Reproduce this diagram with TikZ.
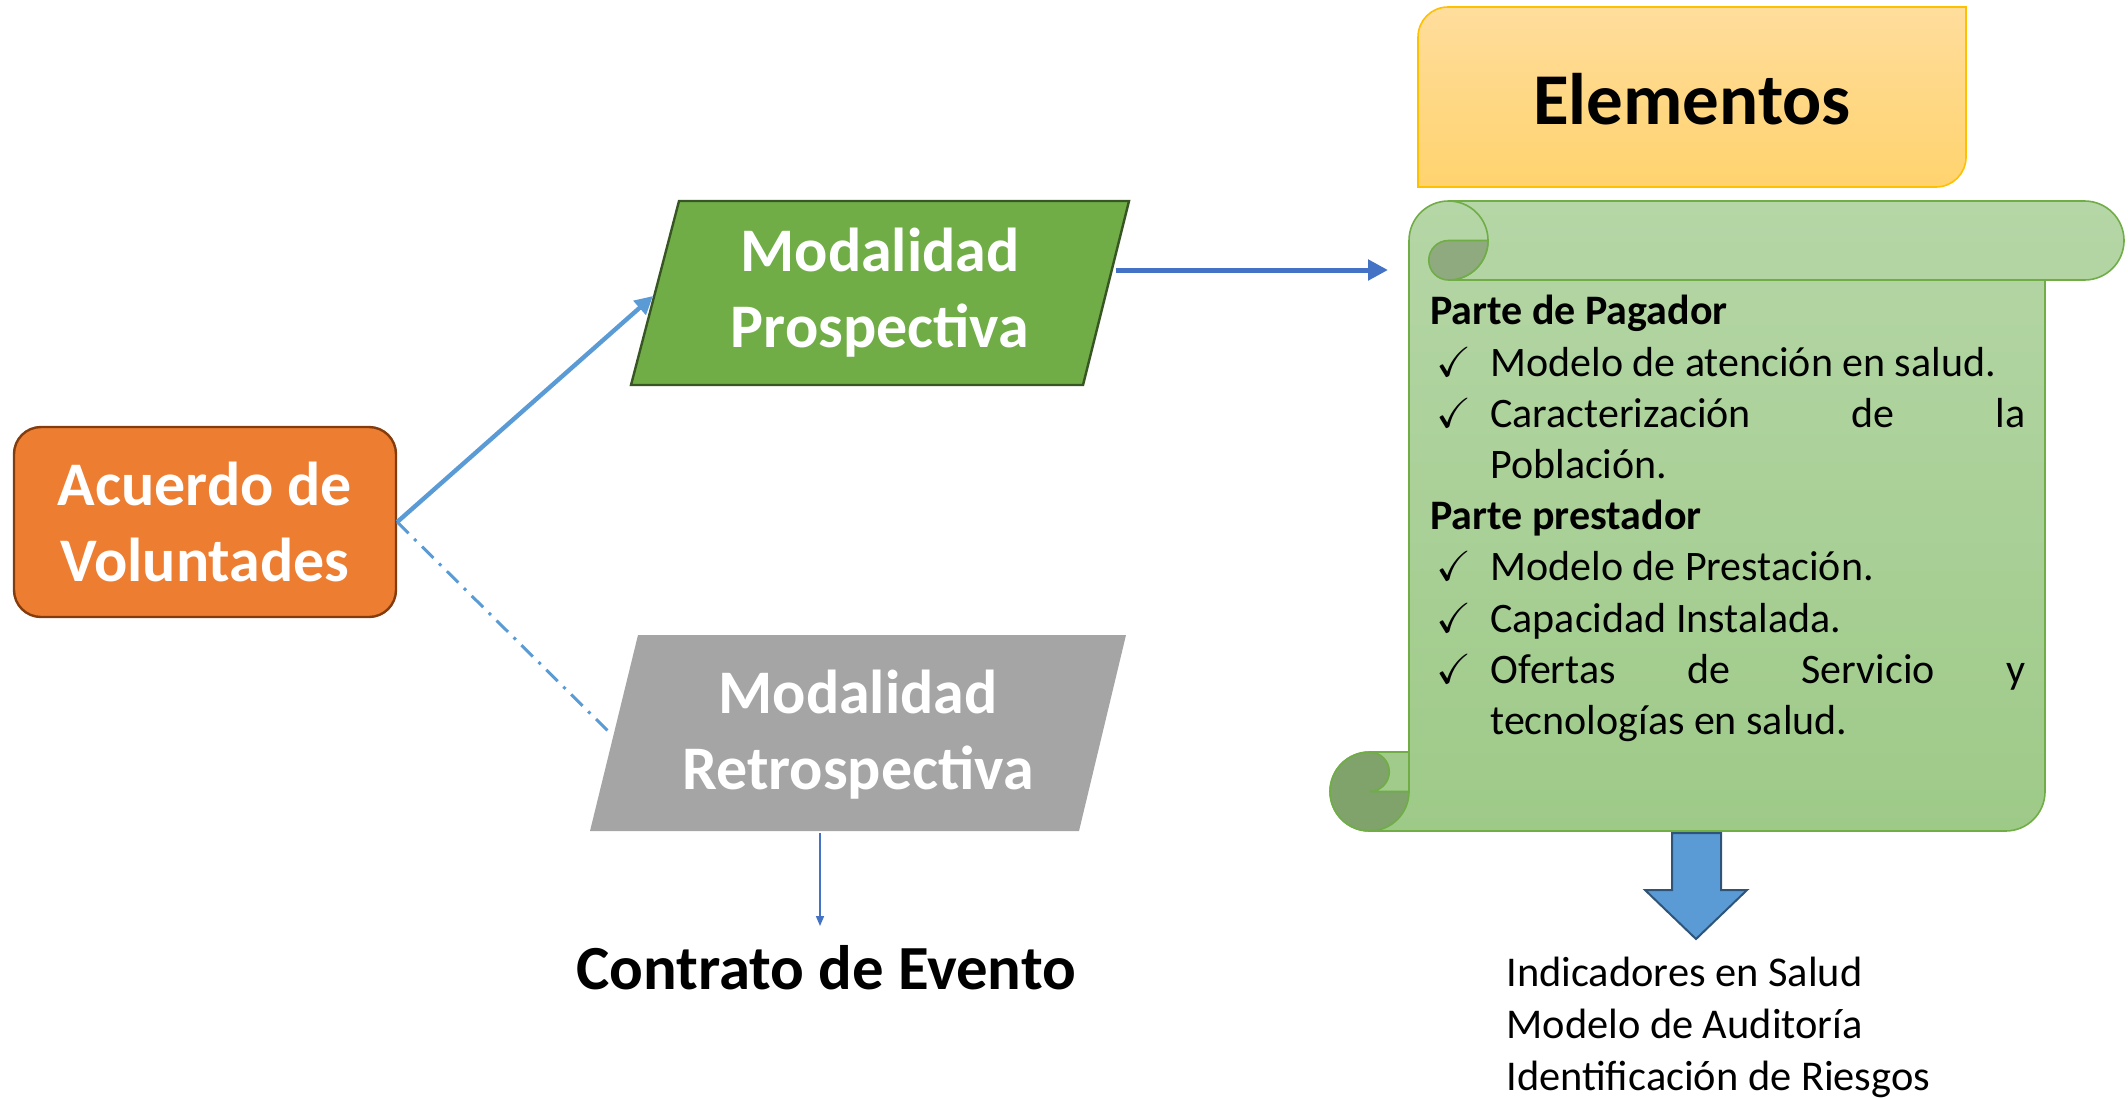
\documentclass[tikz,border=0pt]{standalone}
\usepackage{amsmath,amssymb}
\usepackage{fontspec}
\setmainfont{Carlito}
\usetikzlibrary{arrows.meta}

\definecolor{orangefill}{HTML}{ED7D31}
\definecolor{orangeline}{HTML}{843C0C}
\definecolor{greenfill}{HTML}{70AD47}
\definecolor{greenline}{HTML}{375623}
\definecolor{grayfill}{HTML}{A5A5A5}
\definecolor{lightblue}{HTML}{5B9BD5}
\definecolor{darkblue}{HTML}{4472C4}
\definecolor{navyline}{HTML}{2E5579}
\definecolor{goldtop}{HTML}{FFDD9C}
\definecolor{goldbottom}{HTML}{FFD36E}
\definecolor{goldline}{HTML}{FFC000}
\definecolor{scrolltop}{HTML}{B5D6A6}
\definecolor{scrollbottom}{HTML}{9ECA88}
\definecolor{curltop}{HTML}{8FAA7F}
\definecolor{curlbottom}{HTML}{7FA36B}

\newcommand{\chk}[1]{\makebox[30pt][l]{\hspace{3pt}$\boldsymbol{\checkmark}$}#1}

\begin{document}
\begin{tikzpicture}[x=0.5pt,y=-0.5pt,
every node/.style={inner sep=0pt},
modtext/.style={text=white,font=\fontsize{31}{38}\selectfont\bfseries,align=center},
listtext/.style={align=left,font=\fontsize{21}{25.6}\selectfont},
scrolldraw/.style={draw=greenfill,line width=0.8pt}]
\useasboundingbox (0,0) rectangle (2128,1098);

% acuerdo
\node[modtext,draw=orangeline,line width=1.2pt,fill=orangefill,rounded corners=13.5pt,
      minimum width=191pt,minimum height=95pt] (acuerdo) at (205,522) {Acuerdo de\\Voluntades};

% modalidades
\draw[fill=greenfill,draw=greenline,line width=1.2pt] (679,201) -- (1129,201) -- (1083,385) -- (631,385) -- cycle;
\node[modtext] (pros) at (880,293) {Modalidad\\Prospectiva};
\coordinate (pros-w) at (653,296);
\coordinate (pros-e) at (1116,270);
\fill[grayfill] (638,635) -- (1126,635) -- (1079,831) -- (590,831) -- cycle;
\node[modtext] (retro) at (858,735) {Modalidad\\Retrospectiva};
\coordinate (retro-w) at (608,731);
\coordinate (retro-s) at (820,833);

\node[font=\fontsize{31.4}{38}\selectfont\bfseries] (contrato) at (826,968) {Contrato de Evento};
\coordinate (contrato-n) at (820,926);

% elementos
\draw[top color=goldtop,bottom color=goldbottom,draw=goldline,line width=0.8pt]
  (1418,187) -- (1418,37) arc[start angle=180,end angle=270,radius=30] -- (1966,7)
  -- (1966,157) arc[start angle=0,end angle=90,radius=30] -- cycle;
\node[font=\fontsize{36.5}{44}\selectfont\bfseries] (elementos) at (1692,99) {Elementos};

% scroll
\draw[scrolldraw,top color=scrolltop,bottom color=scrollbottom]
  (1409,791.5) -- (1409,240.5) arc[start angle=180,end angle=270,radius=39.5]
  -- (2084.5,201) arc[start angle=270,end angle=450,radius=39.5]
  -- (2045,280) -- (2045,791.5) arc[start angle=0,end angle=90,radius=39.5]
  -- (1369.5,831) arc[start angle=90,end angle=270,radius=39.5]
  -- (1409,752) -- cycle;
\draw[scrolldraw] (1448.5,201) arc[start angle=270,end angle=450,radius=39.5] -- (2045,280);
\draw[scrolldraw,fill=curltop] (1448.5,240.5) -- (1488,240.5) arc[start angle=0,end angle=90,radius=39.5]
  arc[start angle=90,end angle=270,radius=19.75] -- cycle;
\draw[scrolldraw,fill=curlbottom] (1369.5,752) arc[start angle=270,end angle=90,radius=39.5]
  arc[start angle=90,end angle=0,radius=39.5] -- (1369.5,791.5)
  arc[start angle=90,end angle=-90,radius=19.75] -- cycle;
\coordinate (scroll-w) at (1388,270);
\coordinate (scroll-s) at (1696,831);

\node[listtext,anchor=north west] (lista) at (1430,295) {%
\textbf{Parte de Pagador}\\
\chk{Modelo de atención en salud.}\\
\chk{\makebox[267.5pt][s]{Caracterización de la}}\\
\hspace*{30pt}Población.\\
\textbf{Parte prestador}\\
\chk{Modelo de Prestación.}\\
\chk{Capacidad Instalada.}\\
\chk{\makebox[267.5pt][s]{Ofertas de Servicio y}}\\
\hspace*{30pt}tecnologías en salud.};

% resultado
\draw[fill=lightblue,draw=navyline,line width=1pt] (1672,833) -- (1721,833) -- (1721,890) -- (1747,890)
  -- (1696,939) -- (1645,890) -- (1672,890) -- cycle;
\node[align=left,anchor=north west,font=\fontsize{21.2}{26}\selectfont] (resultado) at (1506,957)
  {Indicadores en Salud\\Modelo de Auditoría\\Identificación de Riesgos};

% connectors
\draw[lightblue,line width=2.2pt,-{Triangle[length=9pt,width=9pt]}] (acuerdo.east) -- (pros-w);
\draw[lightblue,line width=1.5pt,dash pattern=on 8pt off 4pt on 1.5pt off 4pt] (acuerdo.east) -- (retro-w);
\draw[darkblue,line width=2.5pt,-{Triangle[length=10pt,width=10pt]}] (pros-e) -- (scroll-w);
\draw[darkblue,line width=0.8pt,-{Triangle[length=5pt,width=4pt]}] (retro-s) -- (contrato-n);
\end{tikzpicture}
\end{document}
